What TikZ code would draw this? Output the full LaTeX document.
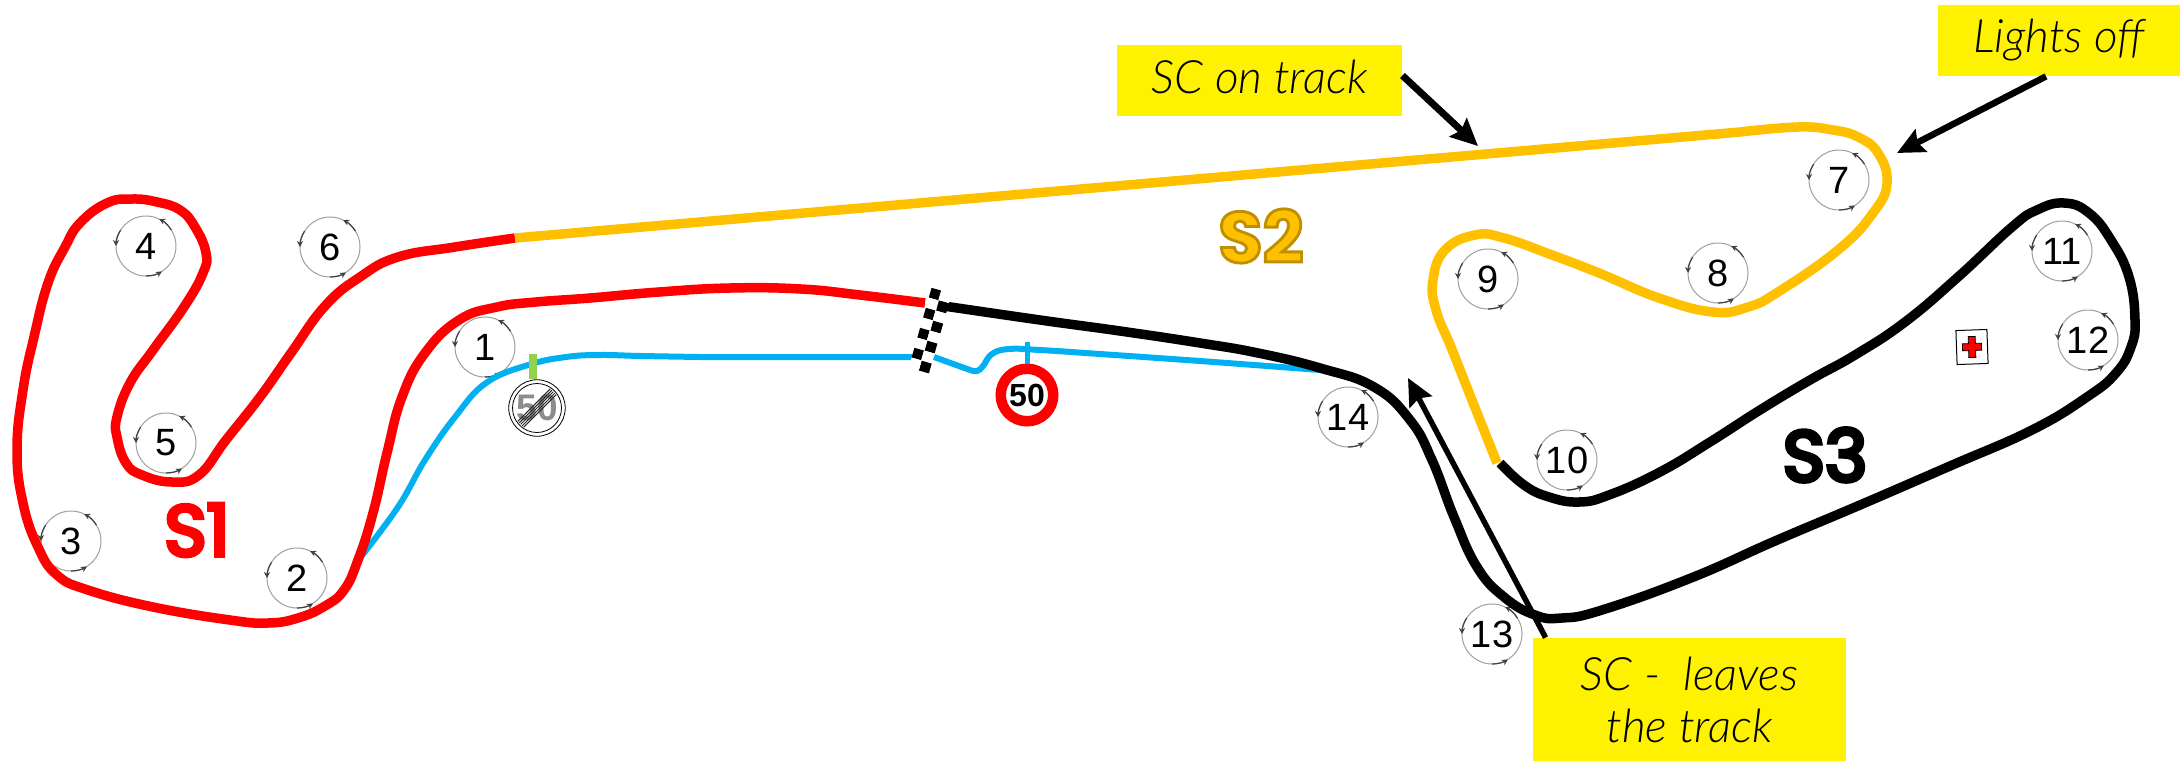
\documentclass[tikz,border=0pt]{standalone}
\usepackage{fontspec}
\setmainfont{Liberation Sans}
\newfontfamily\notefont{Lato Light}[ItalicFont=* Italic]
\newfontfamily\sectorfont[FakeBold=6]{Poppins}
\newfontfamily\sectoroutline[FakeBold=4]{Poppins}
\usetikzlibrary{arrows.meta}
\definecolor{trackred}{rgb}{1.000000, 0.000000, 0.000000}
\definecolor{trackgold}{rgb}{1.000000, 0.752941, 0.000000}
\definecolor{trackblue}{rgb}{0.000000, 0.690196, 0.941176}
\definecolor{tickgreen}{rgb}{0.572549, 0.815686, 0.313725}
\newlength{\du}
\setlength{\du}{0.5pt}
\tikzset{
  trackline/.style={line width=9.5\du,line cap=butt,line join=round},
  pitline/.style={line width=6\du,trackblue,line cap=butt},
  turnmark/.style={circle,draw=black!38,line width=1\du,minimum size=60\du,inner sep=0pt,fill=white,font=\fontsize{19}{23}\selectfont},
  turntip/.style={line width=1.2\du,black!75,-{Stealth[length=3pt,width=3pt]}},
  notebox/.style={fill=yellow,inner sep=0pt,align=center,font=\fontsize{23}{26}\selectfont\notefont\itshape},
  notearrow/.style={line width=7\du,-{Stealth[length=13.5pt,width=12.5pt,inset=2pt]}},
  sectorlabel/.style={inner sep=0pt,font=\fontsize{36}{40}\selectfont\sectorfont}
}

\begin{document}
\begin{tikzpicture}
\pgftransformxscale{1.000000}
\pgftransformyscale{-1.000000}
\useasboundingbox (0\du,0\du) rectangle (2180\du,761\du);
% turns
\foreach \n/\x/\y in {1/485/347,2/297/578,3/71/541,4/146/246,5/166/443,6/330/247,7/1839/180,8/1718/273,9/1488/279,10/1567/460,11/2062/251,12/2088/340,13/1492/634,14/1348/417}{
  \node[turnmark] (turn\n) at (\x\du,\y\du) {\n};
  \foreach \t in {-64,-180,58}{
    \draw[turntip] (turn\n.center) ++(\t+32:30\du) arc[start angle=\t+32,end angle=\t,radius=30\du];
  }
}
% pit lane
\draw[pitline] plot[smooth,tension=0.7] coordinates {(360\du,558\du) (398\du,507\du) (425\du,460\du) (455\du,417\du) (486\du,383\du) (528\du,365\du) (566\du,357\du) (600\du,355\du) (641\du,356\du) (700\du,357\du)} -- (912\du,357\du);
\draw[pitline] (934\du,357\du) -- (970\du,370\du) plot[smooth,tension=0.7] coordinates {(970\du,370\du) (977\du,371\du) (983\du,366\du) (992\du,354\du) (1009\du,349\du) (1040\du,350\du) (1100\du,354\du) (1200\du,361\du) (1320\du,370\du)};
% S1
\draw[trackline,trackred] plot[smooth,tension=0.75] coordinates {(925\du,303\du) (860\du,295\du) (801\du,289\du) (730\du,288\du) (659\du,292\du) (590\du,298\du) (536\du,302\du) (497\du,307\du) (459\du,320\du) (425\du,353\du) (402\du,397\du) (387\du,453\du) (373\du,513\du) (358\du,560\du) (344\du,590\du) (325\du,606\du) (298\du,618\du) (268\du,623\du) (230\du,620\du) (153\du,607\du) (88\du,590\du) (57\du,575\du) (38\du,547\du) (23\du,503\du) (17\du,450\du) (23\du,390\du) (34\du,337\du) (48\du,283\du) (65\du,247\du) (80\du,223\du) (107\du,203\du) (132\du,199\du) (157\du,202\du) (180\du,210\du) (195\du,227\du) (206\du,253\du) (203\du,273\du) (184\du,307\du) (153\du,350\du) (130\du,383\du) (117\du,417\du) (117\du,437\du) (126\du,463\du) (142\du,475\du) (172\du,482\du) (199\du,475\du) (226\du,440\du) (260\du,397\du) (291\du,353\du) (325\du,306\du) (360\du,277\du) (398\du,257\du) (455\du,247\du) (515\du,238\du)};
% S2
\draw[trackline,trackgold] (515\du,238\du) -- (1740\du,132\du) plot[smooth,tension=0.75] coordinates {(1740\du,132\du) (1798\du,127\du) (1833\du,130\du) (1858\du,137\du) (1878\du,153\du) (1887\du,183\du) (1873\du,213\du) (1838\du,250\du) (1778\du,292\du) (1748\du,307\du) (1713\du,312\du) (1659\du,298\du) (1599\du,273\du) (1552\du,255\du) (1504\du,238\du) (1475\du,235\du) (1445\du,250\du) (1433\du,280\du) (1436\du,310\du) (1451\du,347\du) (1466\du,385\du) (1497\du,463\du)};
% S3
\draw[trackline,black] plot[smooth,tension=0.75] coordinates {(1500\du,463\du) (1524\du,485\du) (1549\du,497\du) (1579\du,502\du) (1609\du,495\du) (1660\du,472\du) (1710\du,442\du) (1760\du,410\du) (1810\du,380\du) (1855\du,355\du) (1905\du,322\du) (1958\du,277\du) (2012\du,227\du) (2037\du,210\du) (2064\du,203\du) (2089\du,213\du) (2111\du,240\du) (2129\du,277\du) (2135\du,320\du) (2131\du,347\du) (2116\du,373\du) (2087\du,397\du) (2032\du,430\du) (1950\du,466\du) (1860\du,505\du) (1775\du,541\du) (1691\du,578\du) (1602\du,610\du) (1562\du,618\du) (1535\du,615\du) (1504\du,597\du) (1477\du,567\du) (1454\du,517\du) (1432\du,460\du) (1410\du,420\du) (1374\du,387\du) (1320\du,368\du) (1258\du,353\du) (1200\du,343\du) (1120\du,331\du) (1040\du,320\du) (937\du,305\du)};
% finish line
\begin{scope}[shift={(935\du,294\du)},rotate=16]
\foreach \i in {0,...,3}{
  \fill[black] (-5\du,{(\i*20.8-5)*\du}) rectangle (5\du,{(\i*20.8+5)*\du});
  \fill[white] (5\du,{(\i*20.8-5)*\du}) rectangle (16\du,{(\i*20.8+5)*\du});
  \fill[black] (5.5\du,{(\i*20.8+5.4)*\du}) rectangle (16\du,{(\i*20.8+15.6)*\du});
  \fill[white] (-5\du,{(\i*20.8+5.4)*\du}) rectangle (5.5\du,{(\i*20.8+15.6)*\du});
}
\end{scope}
% signs
\node[circle,draw=trackred,line width=10.5\du,minimum size=52.5\du,inner sep=0pt,fill=white,font=\fontsize{16}{18}\selectfont\bfseries] (limitsign) at (1027\du,395\du) {50};
\coordinate (limittick) at (1027\du,342\du);
\draw[line width=5\du,trackblue] (limittick) -- (limitsign);
\node[circle,draw=black,line width=0.8\du,minimum size=56.5\du,inner sep=0pt,fill=white,font=\fontsize{18.5}{20}\selectfont\bfseries,text=black!45] (endsign) at (537\du,408\du) {50};
\draw[black,line width=0.8\du] (endsign) circle (24.5\du);
\begin{scope}[shift={(537\du,408\du)},rotate=-45]
\foreach \o in {-4.2,-2.1,0,2.1,4.2}{
  \draw[black!85,line width=1\du] (-23\du,\o\du) -- (23\du,\o\du);
}
\end{scope}
\coordinate (endtick) at (533\du,354\du);
\draw[line width=8\du,tickgreen] (endtick) -- (endtick |- endsign.north);
% medical centre
\node[draw=black,fill=white,line width=1\du,minimum width=31\du,minimum height=34\du,inner sep=0pt,rotate=2] (medical) at (1972\du,347\du) {};
\filldraw[fill=trackred,draw=black,line width=0.8\du,shift={(medical.center)},rotate=-2] (-3.5\du,-10.5\du) -- (3.5\du,-10.5\du) -- (3.5\du,-3.5\du) -- (9.5\du,-3.5\du) -- (9.5\du,3.5\du) -- (3.5\du,3.5\du) -- (3.5\du,10.5\du) -- (-3.5\du,10.5\du) -- (-3.5\du,3.5\du) -- (-9.5\du,3.5\du) -- (-9.5\du,-3.5\du) -- (-3.5\du,-3.5\du) -- cycle;
% sectors
\node[sectorlabel,text=trackred] (sectorone) at (197\du,530\du) {S1};
\node[sectorlabel,text=trackgold] (sectortwo) at (1261\du,236\du) {\special{pdf:bc [1 0.753 0] [0.75 0.56 0]}\sectorfont\bfseries\sectoroutline S2\special{pdf:ec}};
\node[sectorlabel,text=black] (sectorthree) at (1825\du,455\du) {S3};
% notes
\node[notebox,minimum width=285\du,minimum height=71\du,text depth=4pt] (ontrack) at (1259.5\du,80.5\du) {SC on track};
\node[notebox,minimum width=242\du,minimum height=71\du] (lightsoff) at (2059\du,40.5\du) {Lights off};
\node[notebox,minimum width=313\du,minimum height=123\du] (leaves) at (1689.5\du,699.5\du) {SC -\ \ leaves\\the track};
\coordinate (ontracktip) at (1478\du,146\du);
\coordinate (lightstip) at (1897\du,153\du);
\coordinate (leavestip) at (1408\du,378\du);
\draw[notearrow] ([yshift=-5\du]ontrack.east) -- (ontracktip);
\draw[notearrow,line width=6.5\du] ([xshift=-13\du]lightsoff.south) -- (lightstip);
\draw[notearrow,line width=5.5\du] ([xshift=13\du]leaves.north west) -- (leavestip);
\end{tikzpicture}
\end{document}
